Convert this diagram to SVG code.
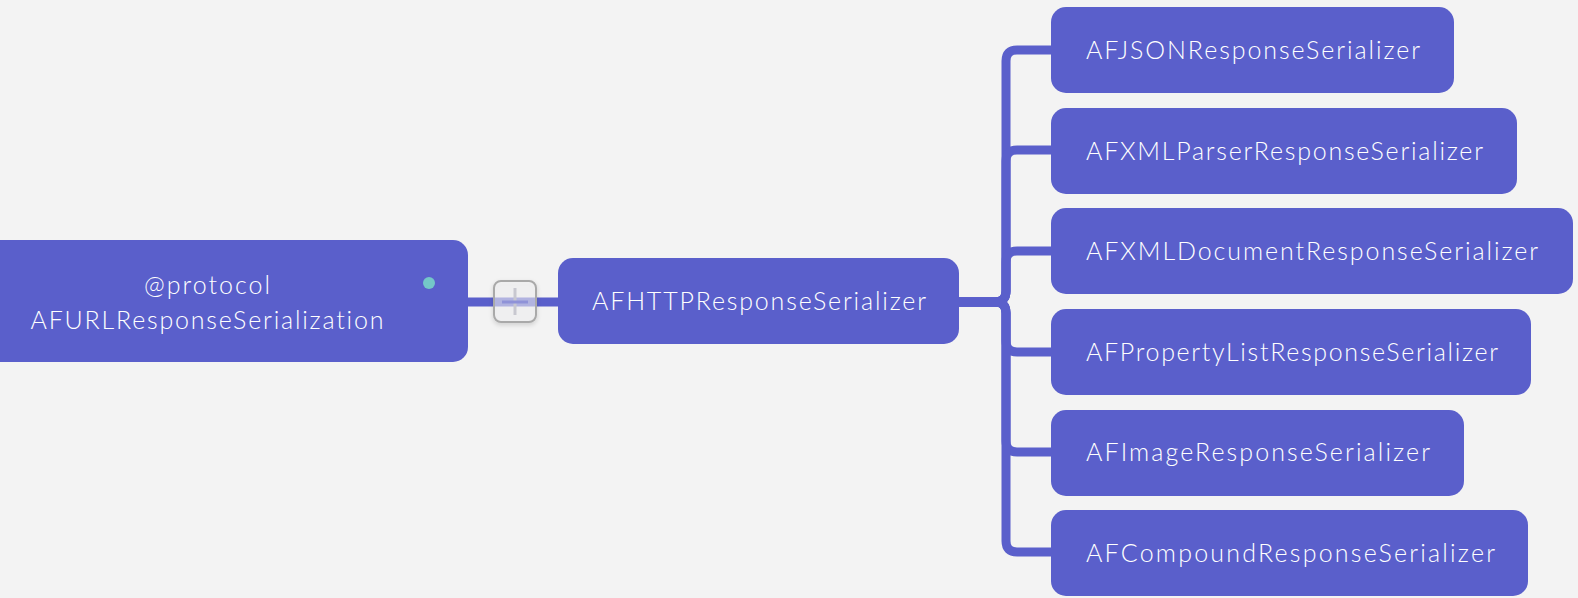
<svg xmlns="http://www.w3.org/2000/svg" width="1578" height="598" viewBox="0 0 1578 598">
  <defs>
    <style>
      .node { fill: #5a5fcb; }
      .lbl { fill: #ffffff; font-family: Lato, "Open Sans", "Liberation Sans", sans-serif; font-size: 25px; font-weight: 300; font-variant-ligatures: none; dominant-baseline: central; }
      .conn { fill: none; stroke: #5a5fcb; stroke-width: 9; }
    </style>
    <filter id="sh" x="-30%" y="-30%" width="160%" height="170%">
      <feDropShadow dx="0" dy="2" stdDeviation="2" flood-color="#000" flood-opacity="0.18"/>
    </filter>
  </defs>
  <rect width="1578" height="598" fill="#f3f3f3"/>

  <g id="connectors">
    <line class="conn" x1="466" y1="302" x2="560" y2="302"/>
    <path class="conn" d="M957,302 H995 Q1006,302 1006,291 V61 Q1006,50 1017,50 H1053"/>
    <path class="conn" d="M957,302 H995 Q1006,302 1006,291 V161 Q1006,150 1017,150 H1053"/>
    <path class="conn" d="M957,302 H995 Q1006,302 1006,291 V262 Q1006,251 1017,251 H1053"/>
    <path class="conn" d="M957,302 H995 Q1006,302 1006,313 V341 Q1006,352 1017,352 H1053"/>
    <path class="conn" d="M957,302 H995 Q1006,302 1006,313 V441 Q1006,452 1017,452 H1053"/>
    <path class="conn" d="M957,302 H995 Q1006,302 1006,313 V541 Q1006,552 1017,552 H1053"/>
  </g>

  <g id="root">
    <rect class="node" x="-16" y="240" width="484" height="122" rx="15"/>
    <circle cx="429" cy="283" r="6" fill="#74c7c8"/>
    <text class="lbl" x="207" y="284" text-anchor="middle" textLength="126">@protocol</text>
    <text class="lbl" x="207" y="319" text-anchor="middle" textLength="353">AFURLResponseSerialization</text>
  </g>

  <g id="collapse-button">
    <rect x="494" y="281" width="42" height="41" rx="7" fill="#f4f4f6" fill-opacity="0.55" stroke="#a9a9a9" stroke-width="2" filter="url(#sh)"/>
    <line x1="515" y1="288" x2="515" y2="315" stroke="#c8c8d0" stroke-width="3"/>
    <line x1="502" y1="302" x2="528" y2="302" stroke="#8f92d8" stroke-width="3"/>
  </g>

  <g id="httpserializer">
    <rect class="node" x="558" y="258" width="401" height="86" rx="15"/>
    <text class="lbl" x="592" y="300" textLength="334">AFHTTPResponseSerializer</text>
  </g>

  <g id="json">
    <rect class="node" x="1051" y="7" width="403" height="86" rx="15"/>
    <text class="lbl" x="1086" y="49" textLength="334">AFJSONResponseSerializer</text>
  </g>
  <g id="xmlparser">
    <rect class="node" x="1051" y="108" width="466" height="86" rx="15"/>
    <text class="lbl" x="1086" y="150" textLength="397">AFXMLParserResponseSerializer</text>
  </g>
  <g id="xmldocument">
    <rect class="node" x="1051" y="208" width="522" height="86" rx="15"/>
    <text class="lbl" x="1086" y="250" textLength="452">AFXMLDocumentResponseSerializer</text>
  </g>
  <g id="propertylist">
    <rect class="node" x="1051" y="309" width="480" height="86" rx="15"/>
    <text class="lbl" x="1086" y="351" textLength="412">AFPropertyListResponseSerializer</text>
  </g>
  <g id="image">
    <rect class="node" x="1051" y="410" width="413" height="86" rx="15"/>
    <text class="lbl" x="1086" y="451" textLength="344">AFImageResponseSerializer</text>
  </g>
  <g id="compound">
    <rect class="node" x="1051" y="510" width="477" height="86" rx="15"/>
    <text class="lbl" x="1086" y="552" textLength="409">AFCompoundResponseSerializer</text>
  </g>
</svg>
